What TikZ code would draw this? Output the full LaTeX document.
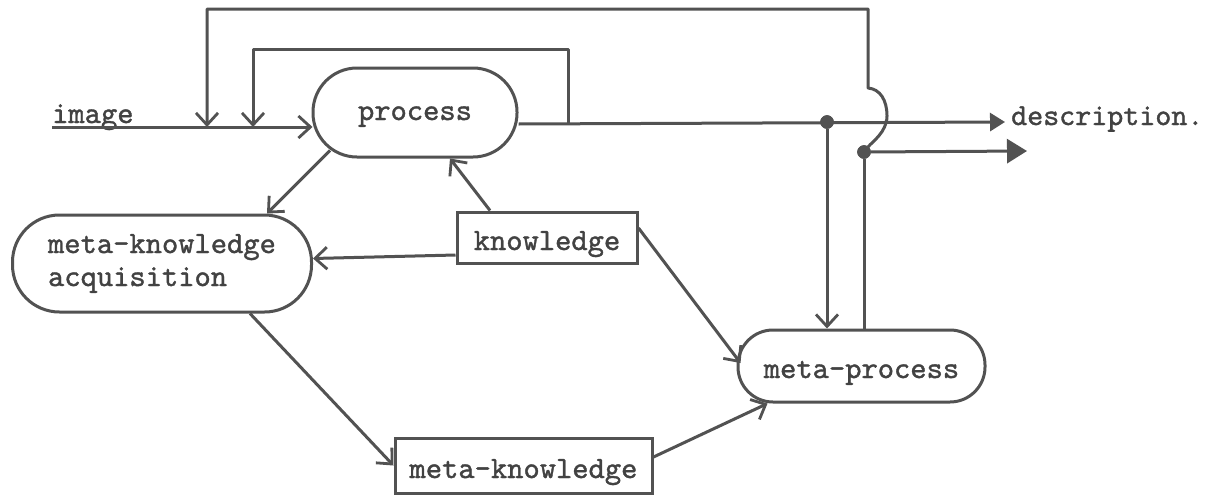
\documentclass[tikz,border=0pt]{standalone}
\usepackage{fontspec}
\setmonofont{lmmono10-regular.otf}[FakeBold=1.2]
\usetikzlibrary{arrows.meta,calc}
\definecolor{ink}{RGB}{82,82,82}
\definecolor{txt}{RGB}{66,66,66}
\begin{document}
\begin{tikzpicture}[x=1pt,y=-1pt,
  every node/.style={font=\ttfamily\fontsize{31}{33}\selectfont, text=txt},
  wire/.style={draw=ink, line width=3pt, line join=round},
  vee/.style={wire, -{Straight Barb[length=12pt,width=22pt,line width=2.8pt]}},
  tri/.style={wire, -{Triangle[length=15pt,width=18pt]}},
  bigtri/.style={wire, -{Triangle[length=20pt,width=24pt]}},
  blob/.style={draw=ink, line width=3pt, inner sep=0pt, fill=white},
  boxnode/.style={draw=ink, line width=3pt, inner sep=0pt, fill=white},
  dotnode/.style={circle, fill=ink, draw=ink, inner sep=0pt, minimum size=13pt},
]
\useasboundingbox[fill=white] (0,0) rectangle (1206,498);

% nodes
\node[blob, rounded corners=44pt, minimum width=204pt, minimum height=89pt,
      text height=20pt, text depth=5pt] (process) at (415,112.5) {process};
\node[blob, rounded corners=47pt, minimum width=299pt, minimum height=97pt,
      align=left] (mka) at (162,263.5) {meta-knowledge\\acquisition};
\node[boxnode, minimum width=180pt, minimum height=51pt,
      text height=30pt, text depth=5pt] (kn) at (547,237.5) {knowledge};
\node[boxnode, minimum width=257pt, minimum height=55pt,
      text height=30pt, text depth=5pt] (mk) at (523.5,465.5) {meta-knowledge};
\node[blob, rounded corners=35pt, minimum width=247pt, minimum height=72pt,
      text height=29pt, text depth=5pt] (mp) at (861.5,366) {meta-process};
\node[anchor=base west, inner sep=0pt] (imgtxt) at (52,123) {image};
\node[anchor=base west, inner sep=0pt, font=\ttfamily\fontsize{30.5}{33}\selectfont]
      (desc) at (1011,125) {description.};
\node[dotnode] (dot1) at (827,122) {};
\node[dotnode] (dot2) at (864,152) {};

% free ends and junctions
\coordinate (in) at (52,127);
\coordinate (j1) at (207,127);
\coordinate (j2) at (253,127);
\coordinate (s1) at (568,124);
\coordinate (out1) at (1005,122);
\coordinate (out2) at (1027,151);
\coordinate (hop) at (868,88);

% connectors
\draw[vee] (in) -- ($(process.west)+(1,14.5)$);
\draw[tri] ($(process.east)+(0,11.5)$) -- (out1);
\draw[vee] (s1) -- (568,49) -- (253,49) -- (j2);
\draw[vee] (dot2) .. controls (872,142) and (887,132) .. (887,116)
   .. controls (887,100) and (880,89) .. (hop) -- (868,9) -- (207,9) -- (j1);
\draw[bigtri] (dot2) -- (out2);
\draw[vee] (dot1) -- (dot1 |- mp.north);
\draw[wire] (mp.north -| dot2) -- (dot2);
\draw[vee] ($(process.south)+(-85,-8)$) -- ($(mka.north)+(105,0)$);
\draw[vee] ($(kn.north)+(-57,0)$) -- ($(process.south)+(35,0)$);
\draw[vee] ($(kn.west)+(0,17.5)$) -- ($(mka.east)+(0,-5)$);
\draw[vee] ($(kn.east)+(0,-9.5)$) -- ($(mp.west)+(4,-3)$);
\draw[vee] ($(mka.south)+(88,0)$) -- (mk.west);
\draw[vee] ($(mk.east)+(0,-8.5)$) -- ($(mp.south)+(-94,0)$);
\node[dotnode] at (dot1) {};
\node[dotnode] at (dot2) {};
\end{tikzpicture}
\end{document}
